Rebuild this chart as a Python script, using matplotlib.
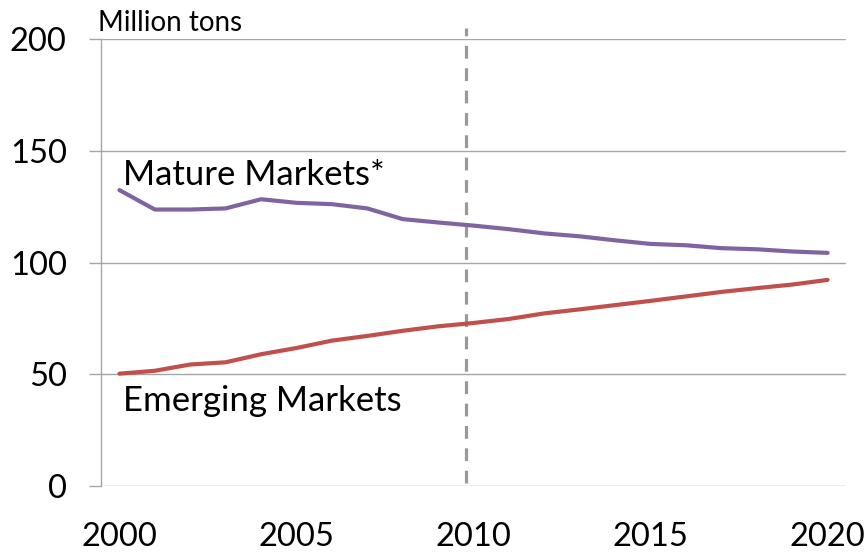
import matplotlib
matplotlib.use('Agg')
import matplotlib.pyplot as plt

# data
years = list(range(2000, 2021))
mature = [132.5, 123.8, 123.8, 124.3, 128.4, 126.8, 126.2, 124.3, 119.5, 118.0, 116.6,
          115.0, 113.1, 111.8, 110.0, 108.4, 107.8, 106.5, 106.0, 105.0, 104.4]
emerging = [50.3, 51.6, 54.4, 55.4, 59.0, 61.8, 65.1, 67.2, 69.5, 71.5, 73.0,
            74.8, 77.3, 79.1, 81.0, 82.9, 84.9, 86.9, 88.6, 90.2, 92.3]
y_ticks = [0, 50, 100, 150, 200]
x_ticks = [2000, 2005, 2010, 2015, 2020]
split_year = 2009.8

plt.rcParams['font.family'] = ['Lato', 'DejaVu Sans']

fig = plt.figure(figsize=(8.67, 5.54), dpi=100)
ax = fig.add_axes([0.1165, 0.1227, 0.9754 - 0.1165, 0.929 - 0.1227])

grid_col = '#a6a6a6'
for v in y_ticks:
    ax.axhline(v, color=grid_col, linewidth=1.0, zorder=1)

ax.plot(years, mature, color='#8064A2', linewidth=3.0, solid_capstyle='round', zorder=3)
ax.plot(years, emerging, color='#C0504D', linewidth=3.0, solid_capstyle='round', zorder=3)

# dashed divider line
ax.axvline(split_year, ymin=0.007, ymax=1.025, color='#999999', linewidth=2.3,
           linestyle=(0, (4, 3)), clip_on=False, zorder=2)

ax.set_xlim(1999.48, 2020.51)
ax.set_ylim(0, 200)
ax.set_yticks(y_ticks)
ax.set_xticks(x_ticks)
ax.tick_params(axis='y', length=8.6, width=1.0, color=grid_col, pad=16, labelsize=23.5)
ax.tick_params(axis='x', length=0, pad=26, labelsize=23.5)

for s in ['top', 'right', 'bottom']:
    ax.spines[s].set_visible(False)
ax.spines['left'].set_color(grid_col)
ax.spines['left'].set_linewidth(1.0)

ax.text(2000.1, 134.8, 'Mature Markets*', fontsize=25, va='baseline', ha='left')
ax.text(2000.1, 33.5, 'Emerging Markets', fontsize=25, va='baseline', ha='left')
ax.text(1999.4, 203.8, 'Million tons', fontsize=20, va='baseline', ha='left')

fig.savefig('out.png', dpi=100)
